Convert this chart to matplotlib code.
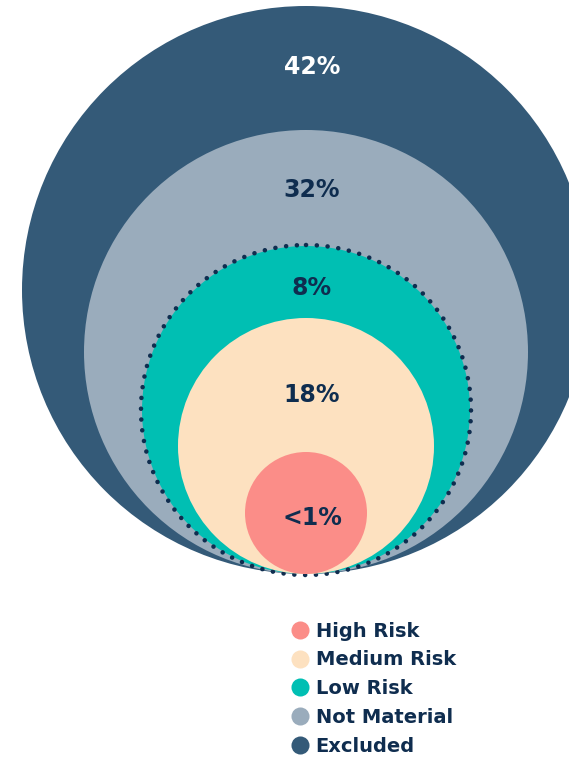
import matplotlib
matplotlib.use('Agg')
import matplotlib.pyplot as plt
from matplotlib.patches import Circle
from matplotlib.lines import Line2D

# categories, inner -> outer (same order as the legend)
categories = ['High Risk', 'Medium Risk', 'Low Risk', 'Not Material', 'Excluded']
share_labels = ['<1%', '18%', '8%', '32%', '42%']
colors = ['#fb8d88', '#fde1c0', '#00bfb3', '#9aacbc', '#345a78']
text_colors = ['#0f2d4f', '#0f2d4f', '#0f2d4f', '#0f2d4f', '#ffffff']

# layout (pixels): all circles touch at the bottom
radii = [61, 128, 164, 222, 284]
label_y = [518, 395, 288, 190, 67]
cx = 306
bottom = 574
navy = '#0f2d4f'

W, H = 569, 758
fig = plt.figure(figsize=(W / 100, H / 100), dpi=100)
ax = fig.add_axes([0, 0, 1, 1])
ax.set_xlim(0, W)
ax.set_ylim(H, 0)
ax.set_aspect('equal')
ax.axis('off')

for i in range(len(categories) - 1, -1, -1):
    r = radii[i]
    ax.add_patch(Circle((cx, bottom - r), r, facecolor=colors[i], edgecolor='none', zorder=len(categories) - i))
    if categories[i] == 'Low Risk':
        ring = Circle((cx, bottom - r), r + 1, facecolor='none', edgecolor=navy,
                      linewidth=3.3, linestyle=(0, (0.01, 2.35)),
                      zorder=len(categories) - i + 0.5)
        ring.set_capstyle('round')
        ax.add_patch(ring)

for i, lab in enumerate(share_labels):
    ax.text(cx + 6, label_y[i], lab, ha='center', va='center', fontsize=17,
            fontweight='bold', color=text_colors[i], zorder=10)

handles = [Line2D([0], [0], marker='o', linestyle='none', markersize=13,
                  markerfacecolor=c, markeredgecolor='none') for c in colors]
leg = ax.legend(handles, categories, loc='upper left', bbox_to_anchor=(279 / W, 1 - 612 / H),
                frameon=False, handletextpad=0.18, labelspacing=0.5, borderpad=0,
                handlelength=1.2, prop={'weight': 'bold', 'size': 14})
for t in leg.get_texts():
    t.set_color(navy)

fig.savefig('out.png', dpi=100)
